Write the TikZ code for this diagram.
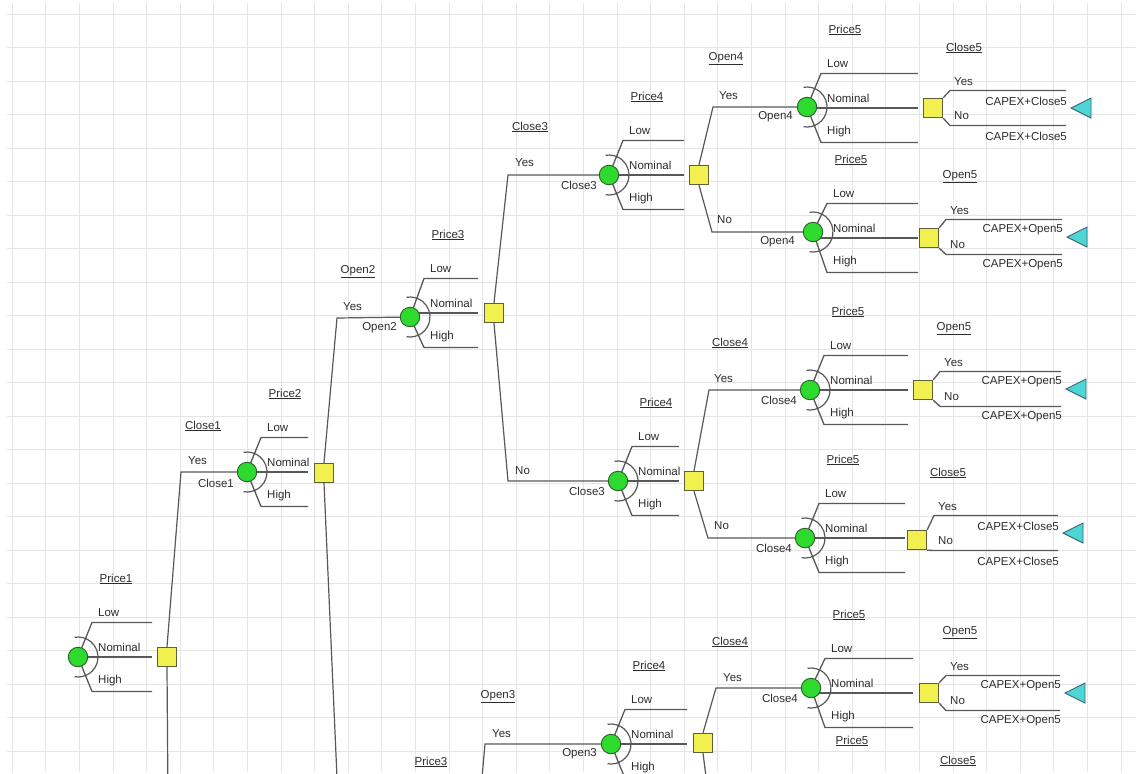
\documentclass[tikz,border=0pt]{standalone}
\usepackage{fontspec}
\setmainfont{Liberation Sans}
\usetikzlibrary{calc}
\pgfdeclarelayer{background}
\pgfsetlayers{background,main}

\definecolor{gridgray}{RGB}{229,229,229}
\definecolor{linegray}{RGB}{88,88,88}
\definecolor{chancegreen}{RGB}{46,218,46}
\definecolor{chanceedge}{RGB}{45,95,45}
\definecolor{decyellow}{RGB}{242,240,78}
\definecolor{decedge}{RGB}{95,95,60}
\definecolor{termcyan}{RGB}{78,214,214}
\definecolor{termedge}{RGB}{55,105,115}
\definecolor{txt}{RGB}{45,45,45}

\tikzset{
  gridline/.style={draw=gridgray, line width=1pt},
  chance/.style={circle, fill=chancegreen, draw=chanceedge, line width=0.9pt,
    minimum size=19.5pt, inner sep=0pt},
  decision/.style={rectangle, fill=decyellow, draw=decedge, line width=0.9pt,
    minimum size=19.5pt, inner sep=0pt},
  terminal/.style={fill=termcyan, draw=termedge, line width=0.9pt, line join=miter},
  branch/.style={draw=linegray, line width=1.3pt},
  link/.style={draw=linegray, line width=1.2pt},
  fanarc/.style={draw=linegray, line width=1.2pt},
  lbl/.style={text=txt, font=\fontsize{11.5}{13}\selectfont, inner sep=0pt},
}

% chance node with its Low / Nominal / High fan
% #1 name, #2 x, #3 y, #4 fan shift, #5 branch length, #6 title
\newcommand\chancenode[6]{%
  \node[chance] (#1) at (#2,#3) {};
  \coordinate (#1f) at ($(#1)+(0,#4)$);
  \coordinate (#1lo) at ($(#1f)+(#5,-34.5)$);
  \coordinate (#1nm) at ($(#1f)+(#5,0)$);
  \coordinate (#1hi) at ($(#1f)+(#5,34.5)$);
  \node[lbl,anchor=west] (#1tlo) at ($(#1f)+(20,-44)$) {Low};
  \node[lbl,anchor=west] (#1tnm) at ($(#1f)+(20,-10)$) {Nominal};
  \node[lbl,anchor=west] (#1thi) at ($(#1f)+(20,24)$) {High};
  \node[lbl] (#1tp) at ($(#1f)+(38,-78)$) {\underline{#6}};
  \begin{pgfonlayer}{background}
    \draw[branch] (#1.center) -- ($(#1f)+(14,-34.5)$) -- (#1lo);
    \draw[branch] (#1 |- #1nm) -- (#1nm);
    \draw[branch] (#1.center) -- ($(#1f)+(14,34.5)$) -- (#1hi);
  \end{pgfonlayer}
  \draw[fanarc] (#1.center) ++(100:20) arc[start angle=100, end angle=-100, radius=20];
}

% last decision with its two outcomes and the end marker
% #1 name, #2 x, #3 y, #4 outcome centre y, #5 outcome end x, #6 title, #7 value
\newcommand\finalnode[7]{%
  \node[decision] (#1) at (#2,#3) {};
  \coordinate (#1ye) at ({#5},{#4-17.5});
  \coordinate (#1no) at ({#5},{#4+17.5});
  \coordinate (#1t) at ({#5+15},{#4});
  \begin{pgfonlayer}{background}
    \draw[branch] (#1.north east) -- ({#2+17},{#4-17.5}) -- (#1ye);
    \draw[branch] (#1.south east) -- ({#2+17},{#4+17.5}) -- (#1no);
  \end{pgfonlayer}
  \node[lbl] (#1tt) at ({#2+31},{#4-60}) {\underline{#6}};
  \node[lbl,anchor=west] (#1ty) at ({#2+21},{#4-26}) {Yes};
  \node[lbl,anchor=west] (#1tn) at ({#2+21},{#4+8}) {No};
  \node[lbl,anchor=east] (#1vy) at ({#5+1},{#4-7}) {#7};
  \node[lbl,anchor=east] (#1vn) at ({#5+1},{#4+28}) {#7};
  \filldraw[terminal] ($(#1t)+(-10,0)$) -- ($(#1t)+(10,-10)$) -- ($(#1t)+(10,10)$) -- cycle;
}

\begin{document}
\begin{tikzpicture}[x=1pt,y=-1pt]
\useasboundingbox (0,0) rectangle (1136,774);

% paper and squared background
\begin{pgfonlayer}{background}
  \fill[white] (0,0) rectangle (1136,774);
  \foreach \i in {0,...,33}
    \draw[gridline] ({12.3+33.6*\i},3) -- ({12.3+33.6*\i},772);
  \foreach \j in {0,...,22}
    \draw[gridline] (7,{14+33.5*\j}) -- (1136,{14+33.5*\j});
\end{pgfonlayer}

% chance nodes
\chancenode{c1}{78}{657}{0}{74}{Price1}
\chancenode{c2}{247}{472}{0}{61}{Price2}
\chancenode{c3}{410}{317}{-4}{68}{Price3}
\chancenode{c4}{609}{175}{0}{75}{Price4}
\chancenode{c5}{618}{481}{0}{61}{Price4}
\chancenode{c6}{807}{107}{1}{111}{Price5}
\chancenode{c7}{813}{232}{6}{105}{Price5}
\chancenode{c8}{810}{390}{0}{98}{Price5}
\chancenode{c9}{805}{538}{0}{100}{Price5}
\chancenode{c10}{611}{744}{0}{76}{Price4}
\chancenode{c11}{811}{688}{5}{102}{Price5}

% intermediate decisions
\node[decision] (d1) at (167,657) {};
\node[decision] (d2) at (324,473) {};
\node[decision] (d3) at (494,313) {};
\node[decision] (d4) at (699,175) {};
\node[decision] (d5) at (694,481) {};
\node[decision] (d10) at (703,743) {};

% last decisions
\finalnode{d6}{933}{108}{108}{1066}{Close5}{CAPEX+Close5}
\finalnode{d7}{929}{238}{237}{1062}{Open5}{CAPEX+Open5}
\finalnode{d8}{923}{390}{389}{1061}{Open5}{CAPEX+Open5}
\finalnode{d9}{917}{540}{533}{1058}{Close5}{CAPEX+Close5}
\finalnode{d11}{929}{693}{693}{1060}{Open5}{CAPEX+Open5}

% bends of the decision branches
\coordinate (k1) at (181,472);
\coordinate (k2) at (337,318);
\coordinate (k3y) at (508,175);
\coordinate (k3n) at (508,481);
\coordinate (k4y) at (713,107);
\coordinate (k4n) at (712,232);
\coordinate (k5y) at (709,390);
\coordinate (k5n) at (708,538);
\coordinate (k10y) at (716,688);
\coordinate (k9) at (485,744);
% branches leaving the lower edge
\coordinate (e1) at (168,800);
\coordinate (e2) at (338,800);
\coordinate (e9) at (480,800);
\coordinate (e10) at (709,800);

\begin{pgfonlayer}{background}
  \draw[link] (d1.north) -- (k1) -- (c2);
  \draw[link] (d1.south) -- (e1);
  \draw[link] (d2.north) -- (k2) -- (c3);
  \draw[link] (d2.south) -- (e2);
  \draw[link] (d3.north) -- (k3y) -- (c4);
  \draw[link] (d3.south) -- (k3n) -- (c5);
  \draw[link] (d4.north) -- (k4y) -- (c6);
  \draw[link] (d4.south) -- (k4n) -- (c7);
  \draw[link] (d5.north) -- (k5y) -- (c8);
  \draw[link] (d5.south) -- (k5n) -- (c9);
  \draw[link] (e9) -- (k9) -- (c10);
  \draw[link] (d10.north) -- (k10y) -- (c11);
  \draw[link] (d10.south) -- (e10);
\end{pgfonlayer}

% decision titles and branch names
\node[lbl] (t1) at (203,426) {\underline{Close1}};
\node[lbl,anchor=west] (y1) at (188,461) {Yes};
\node[lbl,anchor=east] (n1) at (234,483) {Close1};

\node[lbl] (t2) at (358,272) {\underline{Open2}};
\node[lbl,anchor=west] (y2) at (343,307) {Yes};
\node[lbl,anchor=east] (n2) at (397,328) {Open2};

\node[lbl] (t3) at (530,127) {\underline{Close3}};
\node[lbl,anchor=west] (y3) at (515,163) {Yes};
\node[lbl,anchor=east] (n3) at (597,185) {Close3};
\node[lbl,anchor=west] (no3) at (515,471) {No};
\node[lbl,anchor=east] (n3b) at (605,491) {Close3};

\node[lbl] (t4) at (726,59) {\underline{Open4}};
\node[lbl,anchor=west] (y4) at (719,96) {Yes};
\node[lbl,anchor=east] (n4) at (793,117) {Open4};
\node[lbl,anchor=west] (no4) at (717,220) {No};
\node[lbl,anchor=east] (n4b) at (795,242) {Open4};

\node[lbl] (t5) at (730,343) {\underline{Close4}};
\node[lbl,anchor=west] (y5) at (714,379) {Yes};
\node[lbl,anchor=east] (n5) at (797,400) {Close4};
\node[lbl,anchor=west] (no5) at (714,526) {No};
\node[lbl,anchor=east] (n5b) at (792,548) {Close4};

\node[lbl] (t9) at (498,697) {\underline{Open3}};
\node[lbl,anchor=west] (y9) at (492,734) {Yes};
\node[lbl,anchor=east] (n9) at (597,754) {Open3};

\node[lbl] (t10) at (730,642) {\underline{Close4}};
\node[lbl,anchor=west] (y10) at (723,678) {Yes};
\node[lbl,anchor=east] (n10) at (798,698) {Close4};

% titles of the branches that continue below
\node[lbl] (p3b) at (431,762) {\underline{Price3}};
\node[lbl] (p5b) at (852,741) {\underline{Price5}};
\node[lbl] (c5b) at (958,761) {\underline{Close5}};
\end{tikzpicture}
\end{document}
